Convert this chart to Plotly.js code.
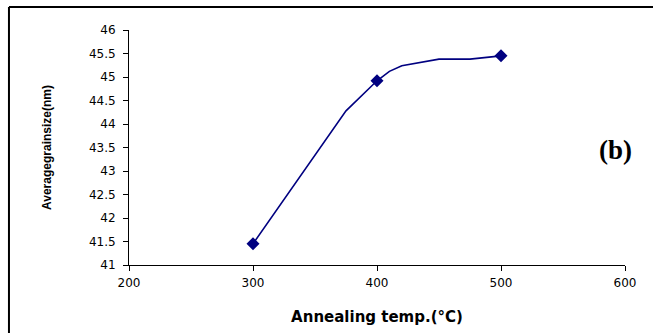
<!DOCTYPE html>
<html>
<head>
<meta charset="utf-8">
<script src="https://cdn.plot.ly/plotly-3.0.1.min.js"></script>
<style>html,body{margin:0;padding:0;background:#fff;}#chart{width:653px;height:333px;}</style>
</head>
<body>
<div id="chart"></div>
<script>
// Curve (temperature in °C, grain size in nm)
var curveTemp = [300, 375, 400, 410, 420, 450, 475, 500];
var curveSize = [41.45, 44.28, 44.92, 45.12, 45.24, 45.38, 45.38, 45.45];
// Measured points (marked)
var pointTemp = [300, 400, 500];
var pointSize = [41.45, 44.92, 45.45];
var xTicks = [200, 300, 400, 500, 600];
var yTicks = [41, 41.5, 42, 42.5, 43, 43.5, 44, 44.5, 45, 45.5, 46];

var navy = '#000080';
var traces = [
  {x: curveTemp, y: curveSize, mode: 'lines', line: {color: navy, width: 1.6}, hoverinfo: 'skip', showlegend: false},
  {x: pointTemp, y: pointSize, mode: 'markers', marker: {symbol: 'diamond', size: 10, color: navy}, showlegend: false}
];

var tickFont = {family: 'DejaVu Sans', size: 12, color: '#000'};
var layout = {
  width: 653, height: 333,
  margin: {l: 129, r: 28, t: 30, b: 68},
  paper_bgcolor: '#fff', plot_bgcolor: '#fff',
  showlegend: false,
  xaxis: {
    range: [200, 600], tickvals: xTicks, ticktext: xTicks.map(String),
    showgrid: false, zeroline: false, showline: true, linecolor: '#000', linewidth: 1,
    ticks: 'outside', ticklen: 5, tickcolor: '#000', tickfont: tickFont, ticklabelstandoff: 2,
    title: {text: 'Annealing temp.(°C)', font: {family: 'DejaVu Sans', size: 15, weight: 'bold', color: '#000'}, standoff: 22}
  },
  yaxis: {
    range: [41, 46], tickvals: yTicks, ticktext: yTicks.map(String),
    showgrid: false, zeroline: false, showline: true, linecolor: '#000', linewidth: 1,
    ticks: 'outside', ticklen: 5, tickcolor: '#000', tickfont: tickFont, ticklabelstandoff: 5,
    title: {text: 'Averagegrainsize(nm)', font: {family: 'Liberation Sans', size: 12, weight: 'bold', color: '#000'}, standoff: 34}
  },
  annotations: [{
    x: 592, y: 43.45, xref: 'x', yref: 'y', text: '<b>(b)</b>', showarrow: false,
    font: {family: 'Liberation Serif', size: 27, color: '#000'}
  }],
  shapes: [
    {type: 'line', xref: 'paper', yref: 'paper', x0: -0.242, x1: -0.242, y0: 1.098, y1: -0.5, line: {color: '#000', width: 2}},
    {type: 'line', xref: 'paper', yref: 'paper', x0: -0.242, x1: 1.2, y0: 1.098, y1: 1.098, line: {color: '#000', width: 2}}
  ]
};
Plotly.newPlot('chart', traces, layout, {displayModeBar: false, staticPlot: true});
</script>
</body>
</html>
